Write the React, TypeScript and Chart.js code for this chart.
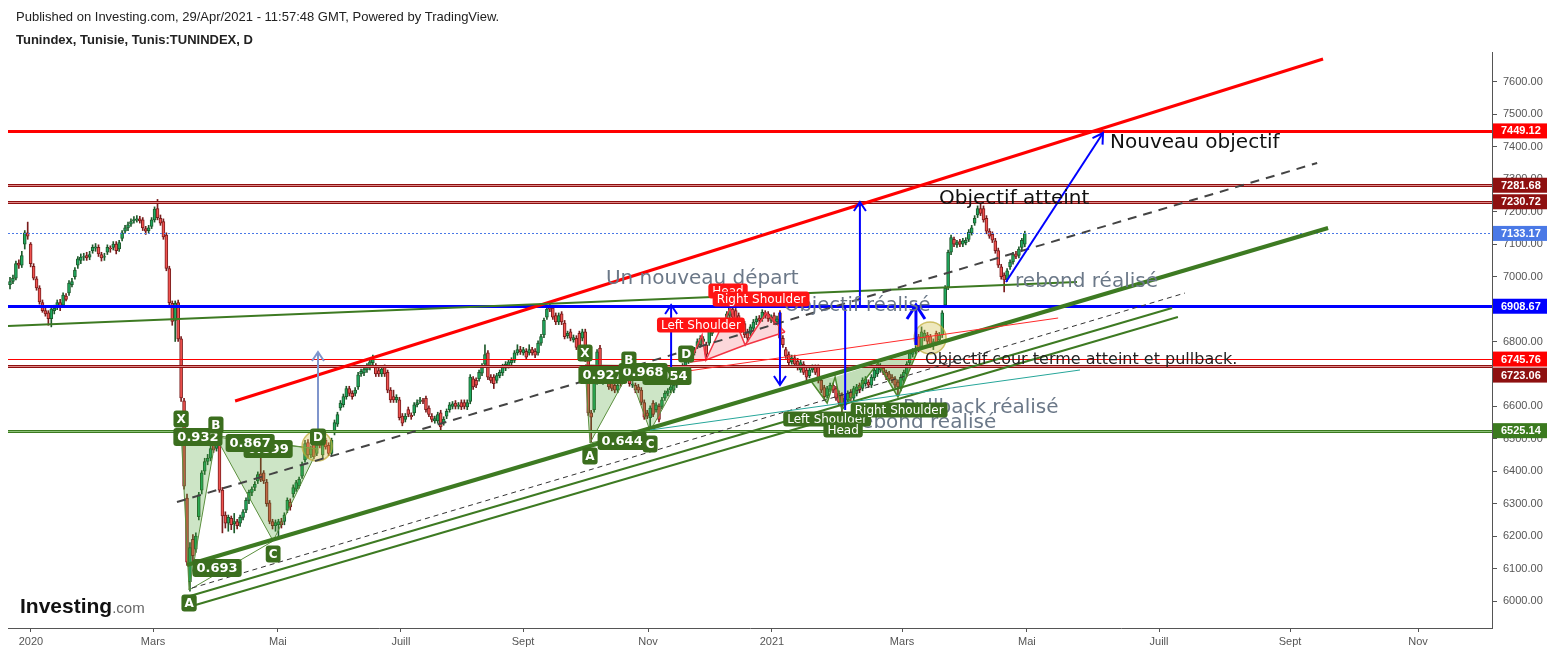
import React, { useEffect, useRef } from 'react';
import { Chart, registerables } from 'chart.js';
Chart.register(...registerables);

// Daily candles [open, high, low, close], Tunindex from late Dec 2019 to 29 Apr 2021
const bars: number[][] = [
  [6975,6998,6962,6985],[6985,7005,6978,6995],[6995,7048,6990,7040],[7042,7052,7025,7035],[7035,7078,7028,7065],
  [7100,7142,7085,7135],[7135,7168,7115,7125],[7100,7105,7030,7040],[7032,7040,6990,6995],[6993,7000,6958,6965],
  [6965,6972,6915,6922],[6920,6928,6890,6895],[6895,6905,6878,6885],[6888,6895,6850,6870],[6870,6908,6845,6900],
  [6895,6912,6885,6902],[6905,6928,6898,6920],[6920,6930,6895,6905],[6912,6950,6905,6943],[6940,6948,6925,6930],
  [6950,6988,6942,6980],[6975,6995,6968,6985],[7000,7028,6992,7020],[7035,7062,7025,7055],[7050,7070,7040,7060],
  [7060,7072,7050,7062],[7065,7075,7050,7058],[7060,7078,7052,7068],[7080,7098,7072,7090],[7088,7102,7078,7092],
  [7090,7098,7062,7070],[7068,7075,7048,7058],[7060,7072,7050,7062],[7075,7098,7068,7090],[7088,7095,7075,7085],
  [7090,7108,7082,7100],[7100,7108,7070,7080],[7085,7112,7078,7105],[7118,7142,7110,7135],[7140,7158,7132,7150],
  [7150,7168,7142,7160],[7162,7178,7155,7170],[7172,7185,7165,7176],[7175,7188,7168,7178],[7178,7186,7165,7172],
  [7175,7182,7142,7150],[7148,7155,7130,7140],[7142,7158,7135,7150],[7155,7182,7148,7175],[7175,7215,7168,7208],
  [7210,7238,7175,7182],[7180,7190,7158,7165],[7170,7178,7115,7122],[7128,7135,7018,7025],[7025,7032,6912,6920],
  [6918,6925,6850,6862],[6865,6925,6800,6918],[6920,6928,6800,6808],[6808,6815,6615,6626],[6617,6625,6345,6354],
  [6317,6330,6110,6120],[6060,6180,6030,6165],[6190,6205,6120,6140],[6160,6210,6150,6200],[6260,6335,6250,6327],
  [6342,6402,6330,6395],[6400,6440,6390,6430],[6430,6452,6420,6440],[6440,6478,6432,6470],[6487,6500,6458,6465],
  [6470,6505,6462,6490],[6490,6498,6335,6342],[6342,6350,6210,6262],[6265,6275,6225,6240],[6240,6265,6215,6258],
  [6255,6262,6220,6235],[6238,6270,6210,6245],[6245,6252,6222,6232],[6240,6265,6230,6258],[6258,6282,6250,6275],
  [6280,6318,6272,6310],[6310,6342,6300,6335],[6335,6352,6325,6345],[6350,6368,6340,6360],[6370,6398,6362,6390],
  [6392,6440,6368,6375],[6395,6402,6362,6370],[6367,6375,6292,6300],[6303,6310,6238,6245],[6245,6252,6222,6232],
  [6232,6250,6215,6242],[6235,6252,6198,6245],[6245,6255,6225,6235],[6245,6272,6235,6265],[6280,6318,6272,6310],
  [6305,6315,6280,6290],[6330,6358,6320,6350],[6345,6372,6338,6365],[6355,6382,6348,6375],[6385,6428,6378,6420],
  [6435,6495,6428,6485],[6488,6498,6440,6450],[6450,6478,6442,6470],[6490,6500,6438,6445],[6455,6488,6448,6480],
  [6495,6502,6472,6480],[6450,6502,6442,6495],[6495,6502,6468,6475],[6480,6488,6448,6455],[6455,6502,6448,6495],
  [6520,6558,6512,6550],[6545,6582,6538,6575],[6595,6618,6588,6610],[6605,6638,6598,6630],[6630,6662,6622,6655],
  [6655,6662,6632,6640],[6640,6648,6622,6630],[6640,6658,6632,6650],[6660,6705,6652,6697],[6700,6715,6692,6708],
  [6703,6722,6695,6715],[6712,6732,6705,6725],[6720,6745,6712,6737],[6735,6758,6728,6745],[6725,6732,6692,6700],
  [6710,6718,6692,6700],[6700,6722,6692,6715],[6720,6728,6692,6700],[6705,6712,6642,6650],[6650,6658,6612,6620],
  [6630,6650,6612,6620],[6620,6636,6612,6628],[6620,6628,6558,6565],[6570,6578,6540,6548],[6560,6578,6552,6570],
  [6590,6598,6568,6575],[6572,6580,6560,6568],[6580,6612,6572,6605],[6605,6620,6598,6612],[6615,6628,6608,6620],
  [6618,6625,6608,6615],[6625,6632,6582,6590],[6595,6602,6568,6575],[6570,6578,6552,6560],[6555,6570,6548,6562],
  [6555,6582,6548,6575],[6580,6588,6527,6537],[6550,6568,6542,6560],[6570,6592,6562,6585],[6590,6612,6582,6605],
  [6600,6615,6592,6608],[6610,6618,6592,6600],[6600,6612,6592,6605],[6612,6620,6590,6598],[6612,6620,6592,6600],
  [6598,6620,6590,6612],[6615,6698,6608,6690],[6685,6692,6652,6660],[6680,6688,6658,6665],[6685,6712,6678,6705],
  [6702,6732,6695,6725],[6730,6790,6722,6760],[6765,6772,6682,6690],[6690,6698,6672,6680],[6690,6698,6655,6670],
  [6680,6702,6672,6695],[6695,6712,6688,6705],[6703,6730,6695,6722],[6718,6738,6710,6730],[6725,6745,6718,6737],
  [6735,6750,6728,6742],[6742,6772,6735,6765],[6765,6790,6758,6775],[6775,6785,6760,6768],[6765,6782,6758,6775],
  [6770,6778,6745,6752],[6765,6790,6758,6775],[6775,6782,6758,6765],[6770,6778,6750,6758],[6765,6802,6758,6795],
  [6795,6822,6788,6815],[6820,6872,6812,6865],[6875,6908,6868,6900],[6910,6922,6892,6900],[6903,6910,6868,6875],
  [6880,6888,6852,6860],[6860,6888,6852,6880],[6885,6892,6852,6860],[6857,6865,6808,6815],[6818,6832,6810,6825],
  [6830,6838,6802,6810],[6805,6820,6798,6812],[6810,6818,6775,6782],[6825,6832,6768,6775],[6810,6838,6802,6830],
  [6830,6838,6738,6745],[6752,6760,6572,6580],[6580,6588,6490,6567],[6590,6682,6582,6675],[6675,6775,6668,6768],
  [6780,6788,6672,6680],[6675,6698,6668,6690],[6695,6702,6672,6680],[6670,6678,6652,6660],[6675,6682,6648,6655],
  [6665,6672,6642,6650],[6650,6672,6642,6665],[6680,6688,6662,6670],[6680,6708,6672,6700],[6690,6712,6682,6705],
  [6700,6708,6662,6670],[6665,6678,6658,6668],[6665,6672,6642,6650],[6660,6668,6642,6650],[6650,6658,6605,6612],
  [6612,6620,6560,6567],[6580,6588,6562,6570],[6565,6602,6527,6595],[6610,6618,6568,6575],[6590,6612,6582,6605],
  [6600,6608,6552,6560],[6600,6628,6592,6620],[6625,6648,6618,6640],[6640,6655,6632,6648],[6650,6668,6642,6660],
  [6650,6672,6642,6665],[6665,6692,6658,6685],[6690,6722,6682,6715],[6715,6732,6708,6725],[6722,6745,6715,6737],
  [6740,6758,6732,6750],[6760,6768,6738,6745],[6765,6782,6758,6775],[6785,6808,6778,6800],[6790,6818,6782,6810],
  [6800,6815,6792,6808],[6790,6798,6752,6760],[6795,6848,6788,6840],[6825,6852,6818,6845],[6845,6852,6830,6838],
  [6840,6858,6832,6850],[6845,6868,6838,6860],[6860,6868,6848,6855],[6845,6892,6838,6885],[6880,6915,6872,6905],
  [6900,6908,6868,6875],[6895,6902,6852,6860],[6880,6888,6842,6850],[6860,6868,6828,6835],[6855,6862,6812,6820],
  [6830,6838,6800,6810],[6825,6852,6818,6845],[6840,6868,6832,6860],[6860,6878,6852,6870],[6872,6880,6858,6865],
  [6870,6898,6862,6890],[6888,6895,6872,6880],[6885,6892,6862,6870],[6865,6882,6858,6875],[6880,6888,6852,6860],
  [6860,6878,6852,6870],[6888,6895,6802,6810],[6810,6818,6782,6790],[6775,6782,6748,6755],[6760,6768,6728,6735],
  [6738,6758,6730,6750],[6750,6758,6722,6730],[6740,6748,6712,6720],[6712,6742,6705,6735],[6730,6738,6698,6705],
  [6712,6720,6682,6690],[6695,6720,6688,6712],[6712,6728,6705,6720],[6720,6728,6698,6705],[6720,6728,6672,6680],
  [6680,6688,6642,6650],[6658,6665,6622,6630],[6632,6662,6625,6655],[6652,6672,6645,6665],[6665,6672,6642,6650],
  [6655,6662,6618,6625],[6640,6648,6605,6612],[6635,6642,6582,6600],[6610,6632,6600,6625],[6620,6648,6612,6640],
  [6645,6652,6618,6625],[6625,6662,6618,6655],[6640,6668,6632,6660],[6665,6672,6642,6650],[6655,6688,6648,6680],
  [6670,6692,6662,6685],[6675,6682,6658,6665],[6665,6698,6658,6690],[6688,6720,6680,6712],[6700,6728,6692,6720],
  [6712,6732,6705,6725],[6718,6725,6698,6705],[6705,6712,6682,6690],[6700,6708,6678,6685],[6690,6698,6672,6680],
  [6685,6692,6658,6665],[6675,6682,6635,6660],[6655,6698,6648,6690],[6680,6712,6672,6705],[6700,6738,6692,6730],
  [6735,6772,6728,6765],[6760,6778,6752,6770],[6770,6788,6762,6778],[6815,6822,6768,6775],[6785,6845,6778,6830],
  [6810,6835,6802,6825],[6820,6828,6792,6800],[6815,6822,6782,6790],[6790,6808,6775,6800],[6825,6832,6788,6795],
  [6805,6828,6798,6820],[6820,6895,6812,6888],[6912,6972,6905,6965],[6968,7082,6960,7075],[7075,7128,7068,7120],
  [7115,7122,7092,7100],[7098,7112,7090,7105],[7108,7115,7092,7100],[7100,7118,7092,7110],[7105,7120,7098,7112],
  [7115,7145,7108,7137],[7135,7158,7128,7150],[7165,7188,7158,7180],[7190,7218,7182,7210],[7210,7228,7188,7195],
  [7210,7218,7168,7175],[7180,7188,7132,7140],[7140,7148,7118,7125],[7130,7138,7105,7112],[7110,7118,7072,7080],
  [7080,7088,7028,7035],[7030,7038,6992,7000],[7005,7012,6953,6990],[6992,7025,6985,7018],[7030,7052,7022,7045],
  [7045,7075,7038,7068],[7070,7078,7055,7062],[7065,7092,7058,7085],[7090,7118,7082,7112],[7100,7140,7092,7133],
];

// Time axis (bar index positions of month labels)
const xTickIndex = [7.1, 48.5, 90.8, 132.5, 173.9, 216.3, 258.3, 302.4, 344.7, 389.5, 433.9, 477.3];
const xTickLabels = ['2020', 'Mars', 'Mai', 'Juill', 'Sept', 'Nov', '2021', 'Mars', 'Mai', 'Juill', 'Sept', 'Nov'];
const yTickValues = [6000, 6100, 6200, 6300, 6400, 6500, 6600, 6700, 6800, 6900, 7000, 7100, 7200, 7300, 7400, 7500, 7600];

// Horizontal price levels
const levelValues = [7449.12, 7281.68, 7230.72, 7133.17, 6908.67, 6745.76, 6723.06, 6525.14];
const levelColors = ['#ff0000', '#8e1010', '#8e1010', '#4a79e6', '#0000ff', '#ff0000', '#8e1010', '#3b7a1f'];

// Trend lines [i1, v1, i2, v2]
const trendLines = [
  [76.3, 6616.5, 445.1, 7670.8],
  [-0.7, 6847.7, 361.7, 6983.4],
  [60.0, 6111, 446.8, 7149.8],
  [61.0, 6015.4, 393.9, 6903.2],
  [61.7, 5984.6, 395.9, 6875.5],
  [56.6, 6305.2, 443.1, 7350.2],
  [61.7, 6040, 398.3, 6949.4],
  [220.3, 6696.7, 355.3, 6872.4],
  [217.0, 6527.1, 362.7, 6712.1],
];
const trendStyles = [
  { c: '#ff0000', w: 3, d: [] as number[] },
  { c: '#3d7a22', w: 2, d: [] },
  { c: '#3d7a22', w: 4, d: [] },
  { c: '#3d7a22', w: 2, d: [] },
  { c: '#3d7a22', w: 2, d: [] },
  { c: '#444444', w: 2, d: [9, 7] },
  { c: '#333333', w: 1, d: [5, 4] },
  { c: '#ff2a2a', w: 1, d: [] },
  { c: '#26a69a', w: 1, d: [] },
];

// Arrows [i1, v1, i2, v2] (head at second point)
const arrows = [
  [224.1, 6705.9, 224.1, 6912.4],
  [261.0, 6890.9, 261.0, 6665.8],
  [288.1, 6908.67, 288.1, 7229.9],
  [307.1, 6789.1, 307.1, 6912.4],
  [337.6, 6983.4, 370.5, 7442.7],
  [104.4, 6527.1, 104.4, 6767.6],
];
const arrowStyles = [
  { c: '#0000ff', w: 2, h: 9, hw: 6 },
  { c: '#0000ff', w: 2, h: 9, hw: 6 },
  { c: '#0000ff', w: 2, h: 9, hw: 6 },
  { c: '#0000ff', w: 3, h: 14, hw: 9 },
  { c: '#0000ff', w: 2, h: 10, hw: 6 },
  { c: '#7f95cc', w: 2, h: 9, hw: 6 },
];
const plainSegments = [[283.1, 6908.67, 283.1, 6588.8]];

// Harmonic XABCD patterns
const xabcd1 = [[58.0, 6524], [60.7, 6033.9], [69.8, 6505.5], [89.2, 6185], [104.4, 6468.6]];
const xabcd2 = [[194.9, 6727.5], [196.6, 6487.1], [209.8, 6705.9], [217.0, 6524], [229.2, 6724.4]];
const ratios1: [string, number, number][] = [['0.932', 63.7, 6505.5], ['0.899', 87.5, 6468.6], ['0.867', 81.4, 6487], ['0.693', 70.2, 6101.7]];
const ratios2: [string, number, number][] = [['0.927', 201.0, 6696.7], ['0.954', 222.7, 6693.6], ['0.968', 214.6, 6705.9], ['0.644', 207.5, 6493.2]];
const pointNames = ['X', 'A', 'B', 'C', 'D'];

// Head & shoulders patterns
const hs1 = [[230.5, 6736.7], [234.6, 6820], [235.9, 6742.9], [244.1, 6903.2], [249.2, 6789.1], [256.3, 6887.8], [262.7, 6829.2]];
const hs2 = [[271.5, 6678.2], [277.0, 6610.4], [279.7, 6690.5], [282.0, 6588.8], [294.2, 6733.7], [301.0, 6628.9], [307.5, 6767.6]];
const hsLabels1: [string, number, number][] = [['Left Shoulder', 234.2, 6850.8], ['Head', 243.4, 6955.6], ['Right Shoulder', 254.6, 6930.9]];
const hsLabels2: [string, number, number][] = [['Left Shoulder', 277.0, 6561], ['Head', 282.4, 6527.1], ['Right Shoulder', 301.4, 6588.8]];

const circles = [[104.1, 6477.8], [311.9, 6810.7]];

// Text notes [text, i, v]
const notes: [string, number, number][] = [
  ['Un nouveau départ', 202.0, 6992.6],
  ['Objectif réalisé', 262.4, 6909.4],
  ['rebond réalisé', 340.7, 6983.4],
  ['Pullback réalisé', 302.7, 6595],
  ['Rebond réalisé', 284.1, 6548.7],
  ['Objectif atteint', 314.9, 7239.2],
  ['Nouveau objectif', 372.9, 7411.8],
  ['Objectif cour terme atteint et pullback.', 310.2, 6742.9],
];
const noteStyles = [
  { c: '#6b7888', f: '20px "DejaVu Sans"' },
  { c: '#6b7888', f: '19.5px "DejaVu Sans"' },
  { c: '#6b7888', f: '20px "DejaVu Sans"' },
  { c: '#6b7888', f: '20px "DejaVu Sans"' },
  { c: '#6b7888', f: '20px "DejaVu Sans"' },
  { c: '#111111', f: '20px "DejaVu Sans"' },
  { c: '#111111', f: '20px "DejaVu Sans"' },
  { c: '#222222', f: '16px "DejaVu Sans"' },
];

const UP = '#1faa60', UP_EDGE = '#1d5a2b', DN = '#f05350', DN_EDGE = '#7a1d1d';

export default function App() {
  const ref = useRef<HTMLCanvasElement>(null);
  useEffect(() => {
    document.body.style.margin = '0';
    const canvas = ref.current!;

    const annot = {
      id: 'annot',
      afterDatasetsDraw(chart: any) {
        const { ctx, chartArea: a, scales } = chart;
        const X = (i: number) => scales.x.getPixelForValue(i);
        const Y = (v: number) => scales.y.getPixelForValue(v);
        ctx.save();
        ctx.beginPath();
        ctx.rect(a.left, a.top, a.right - a.left, a.bottom - a.top);
        ctx.clip();

        const poly = (pts: number[][], fill: string | null, stroke: string | null, lw = 1) => {
          ctx.beginPath();
          pts.forEach((p, k) => (k ? ctx.lineTo(X(p[0]), Y(p[1])) : ctx.moveTo(X(p[0]), Y(p[1]))));
          if (fill) { ctx.closePath(); ctx.fillStyle = fill; ctx.fill(); }
          if (stroke) { ctx.strokeStyle = stroke; ctx.lineWidth = lw; ctx.stroke(); }
        };
        const seg = (x1: number, y1: number, x2: number, y2: number, c: string, w: number, d: number[] = []) => {
          ctx.beginPath(); ctx.setLineDash(d); ctx.strokeStyle = c; ctx.lineWidth = w;
          ctx.moveTo(x1, y1); ctx.lineTo(x2, y2); ctx.stroke(); ctx.setLineDash([]);
        };
        const badge = (t: string, cx: number, cy: number, bg: string, font: string, pad = 4, h = 17) => {
          ctx.font = font;
          const w = ctx.measureText(t).width + pad * 2;
          const x = cx - w / 2, y = cy - h / 2, r = 3;
          ctx.beginPath();
          ctx.moveTo(x + r, y); ctx.lineTo(x + w - r, y); ctx.quadraticCurveTo(x + w, y, x + w, y + r);
          ctx.lineTo(x + w, y + h - r); ctx.quadraticCurveTo(x + w, y + h, x + w - r, y + h);
          ctx.lineTo(x + r, y + h); ctx.quadraticCurveTo(x, y + h, x, y + h - r);
          ctx.lineTo(x, y + r); ctx.quadraticCurveTo(x, y, x + r, y); ctx.closePath();
          ctx.fillStyle = bg; ctx.fill();
          ctx.fillStyle = '#ffffff'; ctx.textAlign = 'center'; ctx.textBaseline = 'middle';
          ctx.fillText(t, cx, cy + 1);
        };

        // Harmonic pattern fills
        [xabcd1, xabcd2].forEach((p) => {
          poly([p[0], p[1], p[2]], 'rgba(76,160,50,0.28)', null);
          poly([p[2], p[3], p[4]], 'rgba(76,160,50,0.28)', null);
          poly(p, null, '#5b8f3e', 1);
          poly([p[0], p[2]], null, '#5b8f3e', 1);
          poly([p[1], p[3]], null, '#5b8f3e', 1);
          poly([p[2], p[4]], null, '#5b8f3e', 1);
          poly([p[0], p[4]], null, '#5b8f3e', 1);
        });
        // Head & shoulders fills
        poly([hs1[0], hs1[1], hs1[2]], 'rgba(242,54,69,0.2)', null);
        poly([hs1[2], hs1[3], hs1[4]], 'rgba(242,54,69,0.2)', null);
        poly([hs1[4], hs1[5], hs1[6]], 'rgba(242,54,69,0.2)', null);
        poly(hs1, null, '#f23645', 1.5);
        poly([hs1[0], hs1[2], hs1[4], hs1[6]], null, '#f23645', 1.5);
        poly([hs2[0], hs2[1], hs2[2]], 'rgba(76,160,50,0.35)', null);
        poly([hs2[2], hs2[3], hs2[4]], 'rgba(76,160,50,0.35)', null);
        poly([hs2[4], hs2[5], hs2[6]], 'rgba(76,160,50,0.35)', null);
        poly(hs2, null, '#4d8a2e', 1.5);

        // Circles
        circles.forEach((c, k) => {
          ctx.beginPath();
          ctx.arc(X(c[0]), Y(c[1]), k ? 16 : 15, 0, Math.PI * 2);
          ctx.fillStyle = 'rgba(205,190,70,0.35)'; ctx.fill();
          ctx.strokeStyle = 'rgba(190,170,50,0.7)'; ctx.lineWidth = 1.5; ctx.stroke();
        });

        // Horizontal levels
        levelValues.forEach((v, k) => {
          const y = Math.round(Y(v)) + 0.5;
          const c = levelColors[k];
          if (k === 3) seg(a.left, y, a.right, y, c, 1, [2, 2]);
          else if (k === 5) seg(a.left, y, a.right, y, c, 1);
          else if (k === 0 || k === 4) seg(a.left, y, a.right, y, c, 3);
          else {
            seg(a.left, y, a.right, y, c, 3);
            seg(a.left, y, a.right, y, k === 7 ? 'rgba(150,200,130,0.9)' : 'rgba(230,150,150,0.9)', 1);
          }
        });

        // Trend lines
        trendLines.forEach((t, k) => {
          const s = trendStyles[k];
          seg(X(t[0]), Y(t[1]), X(t[2]), Y(t[3]), s.c, s.w, s.d);
        });

        // Arrows
        plainSegments.forEach((t) => seg(X(t[0]), Y(t[1]), X(t[2]), Y(t[3]), '#0000ff', 2));
        arrows.forEach((t, k) => {
          const s = arrowStyles[k];
          const x1 = X(t[0]), y1 = Y(t[1]), x2 = X(t[2]), y2 = Y(t[3]);
          seg(x1, y1, x2, y2, s.c, s.w);
          const ang = Math.atan2(y2 - y1, x2 - x1);
          const bx = x2 - Math.cos(ang) * s.h, by = y2 - Math.sin(ang) * s.h;
          const px = -Math.sin(ang) * s.hw, py = Math.cos(ang) * s.hw;
          ctx.beginPath(); ctx.strokeStyle = s.c; ctx.lineWidth = s.w;
          ctx.moveTo(bx + px, by + py); ctx.lineTo(x2, y2); ctx.lineTo(bx - px, by - py); ctx.stroke();
        });

        // Notes
        notes.forEach((n, k) => {
          const s = noteStyles[k];
          ctx.font = s.f; ctx.fillStyle = s.c; ctx.textAlign = 'left'; ctx.textBaseline = 'middle';
          ctx.fillText(n[0], X(n[1]), Y(n[2]));
        });

        // Pattern badges
        const GREEN = '#3b6e1e';
        [xabcd1, xabcd2].forEach((p, q) => {
          const rs = q ? ratios2 : ratios1;
          rs.forEach((r) => badge(r[0], X(r[1]), Y(r[2]), GREEN, 'bold 13px "DejaVu Sans"', 4, 18));
          p.forEach((pt, k) => {
            const off = k % 2 === 0 ? -12 : 13;
            badge(pointNames[k], X(pt[0]), Y(pt[1]) + off, GREEN, 'bold 12px "DejaVu Sans"', 3, 17);
          });
        });
        hsLabels1.forEach((l) => badge(l[0], X(l[1]), Y(l[2]), '#ff1414', '12px "DejaVu Sans"', 4, 15));
        hsLabels2.forEach((l) => badge(l[0], X(l[1]), Y(l[2]), '#3b6e1e', '12px "DejaVu Sans"', 4, 15));

        ctx.restore();
      },
      afterDraw(chart: any) {
        const { ctx, chartArea: a, scales } = chart;
        const Y = (v: number) => scales.y.getPixelForValue(v);
        ctx.save();
        // price tags on the axis (shifted apart when they would overlap)
        let prevY = -100;
        levelValues.forEach((v, k) => {
          let y = Y(v);
          if (y - prevY < 16) y = prevY + 16;
          prevY = y;
          ctx.fillStyle = levelColors[k];
          ctx.fillRect(a.right + 1, y - 7.5, 54, 15);
          ctx.fillStyle = '#ffffff';
          ctx.font = 'bold 11px "Liberation Sans", Arial';
          ctx.textAlign = 'left'; ctx.textBaseline = 'middle';
          ctx.fillText(v.toFixed(2), a.right + 9, y + 0.5);
        });
        // header
        ctx.fillStyle = '#222222';
        ctx.textAlign = 'left'; ctx.textBaseline = 'middle';
        ctx.font = '13px "Liberation Sans", Arial';
        ctx.fillText('Published on Investing.com, 29/Apr/2021 - 11:57:48 GMT, Powered by TradingView.', 16, 17);
        ctx.font = 'bold 13px "Liberation Sans", Arial';
        ctx.fillText('Tunindex, Tunisie, Tunis:TUNINDEX, D', 16, 40);
        // logo
        ctx.font = 'bold 21px "Liberation Sans", Arial';
        ctx.fillStyle = '#111111';
        ctx.fillText('Investing', 20, 607);
        const w = ctx.measureText('Investing').width;
        ctx.font = '15px "Liberation Sans", Arial';
        ctx.fillStyle = '#666666';
        ctx.fillText('.com', 20 + w, 609);
        ctx.restore();
      },
    };

    const chart = new Chart(canvas, {
      type: 'bar',
      data: {
        datasets: [
          {
            label: 'wick',
            data: bars.map((b, i) => ({ x: i, y: [b[2], b[1]] })) as any,
            backgroundColor: bars.map((b) => (b[3] >= b[0] ? UP_EDGE : DN_EDGE)),
            barThickness: 1,
            grouped: false,
            order: 2,
          } as any,
          {
            label: 'body',
            data: bars.map((b, i) => ({ x: i, y: [b[0], b[3]] })) as any,
            backgroundColor: bars.map((b) => (b[3] >= b[0] ? UP : DN)),
            borderColor: bars.map((b) => (b[3] >= b[0] ? UP_EDGE : DN_EDGE)),
            borderWidth: 1,
            borderSkipped: false,
            barThickness: 3,
            grouped: false,
            order: 1,
          } as any,
        ],
      },
      options: {
        responsive: false,
        animation: false,
        events: [],
        layout: { padding: { top: 52, left: 8, right: 0, bottom: 0 } },
        plugins: { legend: { display: false }, tooltip: { enabled: false } },
        scales: {
          x: {
            type: 'linear',
            min: -0.68,
            max: 502.37,
            offset: false,
            afterBuildTicks: (s: any) => { s.ticks = xTickIndex.map((v) => ({ value: v })); },
            afterFit: (s: any) => { s.height = 25; },
            ticks: {
              autoSkip: false,
              maxRotation: 0,
              padding: 3,
              color: '#555555',
              font: { family: '"Liberation Sans", Arial', size: 11 },
              callback: (_v: any, idx: number) => xTickLabels[idx],
            },
            grid: { drawOnChartArea: false, tickLength: 4, color: '#555555', offset: false },
            border: { color: '#555555', width: 1 },
          },
          y: {
            position: 'right',
            min: 5916.8,
            max: 7692.4,
            afterBuildTicks: (s: any) => { s.ticks = yTickValues.map((v) => ({ value: v })); },
            afterFit: (s: any) => { s.width = 58; },
            ticks: {
              padding: 6,
              color: '#555555',
              font: { family: '"Liberation Sans", Arial', size: 11 },
              callback: (v: any) => Number(v).toFixed(2),
            },
            grid: { drawOnChartArea: false, tickLength: 5, color: '#555555' },
            border: { color: '#555555', width: 1 },
          },
        },
      } as any,
      plugins: [annot],
    });
    return () => chart.destroy();
  }, []);
  return <canvas ref={ref} width={1550} height={653} style={{ display: 'block' }} />;
}
